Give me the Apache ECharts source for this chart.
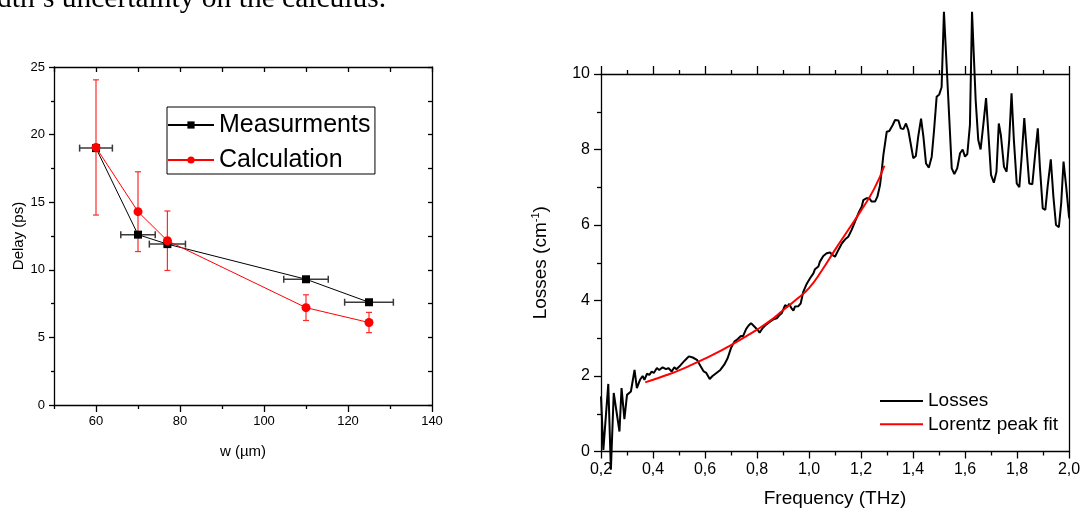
<!DOCTYPE html>
<html><head><meta charset="utf-8">
<script src="https://cdn.jsdelivr.net/npm/echarts@6/dist/echarts.min.js"></script>
<style>html,body{margin:0;padding:0;background:#fff}#c{width:1086px;height:509px}</style>
</head><body><div id="c"></div>
<script>
// ---------- Left chart data ----------
const measW = [60, 70, 77, 110, 125];
const measDelay = [19.0, 12.6, 11.9, 9.3, 7.6];
const measWErr = [3.9, 4.1, 4.3, 5.3, 5.8];
const calcW = [60, 70, 77, 110, 125];
const calcDelay = [19.05, 14.3, 12.15, 7.2, 6.1];
const calcDelayErr = [5.0, 2.95, 2.2, 0.95, 0.75];
const leftXMajor = [60, 80, 100, 120, 140];
const leftXMinor = [50, 70, 90, 110, 130];

// ---------- Right chart data ----------
const lossFreq = [0.200,0.209,0.228,0.238,0.249,0.271,0.279,0.290,0.300,0.315,0.329,0.338,0.350,0.360,0.367,0.377,0.386,0.395,0.403,0.415,0.424,0.437,0.450,0.459,0.472,0.482,0.490,0.501,0.518,0.528,0.538,0.553,0.569,0.582,0.595,0.605,0.618,0.629,0.644,0.659,0.674,0.687,0.700,0.713,0.726,0.738,0.746,0.758,0.767,0.777,0.787,0.803,0.810,0.822,0.835,0.850,0.863,0.876,0.885,0.895,0.908,0.917,0.924,0.933,0.940,0.946,0.959,0.968,0.978,0.991,1.004,1.017,1.023,1.036,1.042,1.055,1.068,1.081,1.091,1.100,1.113,1.126,1.139,1.151,1.164,1.177,1.190,1.203,1.209,1.222,1.232,1.241,1.254,1.263,1.273,1.280,1.286,1.299,1.309,1.322,1.331,1.344,1.353,1.363,1.373,1.382,1.391,1.401,1.411,1.420,1.431,1.440,1.450,1.461,1.472,1.481,1.491,1.501,1.510,1.519,1.524,1.536,1.549,1.559,1.570,1.581,1.591,1.600,1.609,1.619,1.627,1.632,1.641,1.651,1.660,1.671,1.681,1.690,1.700,1.711,1.721,1.730,1.738,1.750,1.760,1.770,1.779,1.788,1.799,1.809,1.818,1.828,1.837,1.847,1.859,1.869,1.880,1.888,1.899,1.909,1.918,1.930,1.940,1.950,1.961,1.970,1.979,1.989,2.000,2.006];
const lossVal = [1.46,0.04,1.79,-0.48,1.55,0.53,1.68,0.86,1.50,1.59,2.16,1.68,1.90,2.00,1.90,2.06,2.03,2.12,2.08,2.21,2.16,2.23,2.18,2.21,2.12,2.23,2.18,2.25,2.38,2.45,2.52,2.49,2.43,2.27,2.12,2.08,1.92,2.00,2.08,2.16,2.30,2.47,2.74,2.91,2.98,3.06,3.05,3.24,3.33,3.40,3.33,3.22,3.15,3.27,3.36,3.44,3.50,3.53,3.60,3.66,3.88,3.84,3.91,3.79,3.73,3.84,3.85,3.92,4.23,4.44,4.59,4.72,4.83,4.90,5.03,5.18,5.25,5.27,5.20,5.16,5.34,5.51,5.62,5.69,5.87,6.09,6.31,6.49,6.66,6.71,6.71,6.62,6.62,6.75,7.05,7.46,7.85,8.47,8.49,8.65,8.78,8.77,8.56,8.54,8.69,8.51,8.16,7.77,7.83,8.34,8.82,8.34,7.63,7.52,7.81,8.51,9.40,9.46,9.65,11.65,11.65,9.31,7.50,7.35,7.50,7.90,8.00,7.81,7.88,8.65,11.65,11.65,9.31,8.25,8.00,8.69,9.36,8.42,7.33,7.12,7.41,8.69,8.38,7.54,7.41,8.25,9.49,8.25,7.10,7.00,7.81,8.83,8.00,7.10,7.08,7.81,8.56,7.54,6.44,6.40,7.03,7.74,6.75,6.00,5.94,6.58,7.68,7.03,6.22,6.11];
const fitFreq = [0.37,0.40,0.45,0.50,0.55,0.60,0.65,0.70,0.75,0.80,0.85,0.90,0.95,1.00,1.05,1.10,1.15,1.20,1.25,1.29];
const fitVal = [1.83,1.90,2.02,2.15,2.30,2.46,2.63,2.82,3.02,3.23,3.46,3.74,4.02,4.33,4.80,5.34,5.86,6.38,6.95,7.57];

const FF = 'Liberation Sans, Arial, sans-serif';
const K = '#000';
const axLine = {show: true, onZero: false, lineStyle: {color: K, width: 1.3}};
const tickStyle = {color: K, width: 1.3};

function xErrRender(params, api) {
  const x = api.value(0), y = api.value(1), e = api.value(2);
  const a = api.coord([x - e, y]), b = api.coord([x + e, y]);
  const st = {stroke: '#3a3a3a', lineWidth: 1.5};
  const c = 3.5;
  return {type: 'group', children: [
    {type: 'line', shape: {x1: a[0], y1: a[1], x2: b[0], y2: b[1]}, style: st},
    {type: 'line', shape: {x1: a[0], y1: a[1] - c, x2: a[0], y2: a[1] + c}, style: st},
    {type: 'line', shape: {x1: b[0], y1: b[1] - c, x2: b[0], y2: b[1] + c}, style: st}
  ]};
}
function yErrRender(params, api) {
  const x = api.value(0), y = api.value(1), e = api.value(2);
  const a = api.coord([x, y + e]), b = api.coord([x, y - e]);
  const st = {stroke: '#ff2a2a', lineWidth: 1.2};
  const c = 3;
  return {type: 'group', children: [
    {type: 'line', shape: {x1: a[0], y1: a[1], x2: b[0], y2: b[1]}, style: st},
    {type: 'line', shape: {x1: a[0] - c, y1: a[1], x2: a[0] + c, y2: a[1]}, style: st},
    {type: 'line', shape: {x1: b[0] - c, y1: b[1], x2: b[0] + c, y2: b[1]}, style: st}
  ]};
}

const chart = echarts.init(document.getElementById('c'), null, {renderer: 'canvas'});
chart.setOption({
  animation: false,
  backgroundColor: '#fff',
  graphic: [{
    type: 'text', x: -3, y: -1,
    style: {text: 'dth\u2019s uncertainty on the calculus.', font: '29.5px "Liberation Serif", serif', fill: K, verticalAlign: 'middle', align: 'left'}
  }],
  grid: [
    {left: 54, top: 67, width: 378, height: 338, containLabel: false, outerBoundsMode: 'none'},
    {left: 601, top: 74, width: 468, height: 377.5, containLabel: false, outerBoundsMode: 'none'}
  ],
  legend: [
    {
      orient: 'vertical', left: 167, top: 107, selectedMode: false,
      data: ['Measurments', 'Calculation'],
      itemWidth: 46, itemHeight: 9, itemGap: 10,
      padding: [5.5, 4.5, 1.5, 0],
      borderColor: K, borderWidth: 1,
      textStyle: {fontSize: 25, color: K, fontFamily: FF, lineHeight: 25}
    },
    {
      orient: 'vertical', left: 880, top: 391, selectedMode: false,
      data: [{name: 'Losses', icon: 'rect'}, {name: 'Lorentz peak fit', icon: 'rect'}],
      itemWidth: 43, itemHeight: 2, itemGap: 3.3, padding: 0,
      textStyle: {fontSize: 19, color: K, fontFamily: FF, lineHeight: 20}
    }
  ],
  xAxis: [
    {gridIndex: 0, type: 'value', min: 50, max: 140, position: 'bottom',
      axisLine: axLine, splitLine: {show: false},
      axisTick: {show: true, length: 7, lineStyle: tickStyle, customValues: leftXMajor},
      axisLabel: {show: true, customValues: leftXMajor, fontSize: 13, color: K, fontFamily: FF, margin: 10},
      name: 'w (\u00b5m)', nameLocation: 'middle', nameGap: 39,
      nameTextStyle: {fontSize: 15, color: K, fontFamily: FF}},
    {gridIndex: 0, type: 'value', min: 50, max: 140, position: 'bottom',
      axisLine: {show: false, onZero: false}, splitLine: {show: false},
      axisTick: {show: true, length: 4, lineStyle: tickStyle, customValues: leftXMinor},
      axisLabel: {show: false}},
    {gridIndex: 0, type: 'value', min: 50, max: 140, interval: 10, position: 'top',
      axisLine: axLine, splitLine: {show: false},
      axisTick: {show: true, inside: true, length: 5, lineStyle: tickStyle},
      axisLabel: {show: false}},
    {gridIndex: 1, type: 'value', min: 0.2, max: 2.0, interval: 0.2, position: 'bottom',
      axisLine: axLine, splitLine: {show: false},
      axisTick: {show: true, length: 7, lineStyle: tickStyle},
      minorTick: {show: true, splitNumber: 2, length: 4, lineStyle: tickStyle},
      axisLabel: {fontSize: 16, color: K, fontFamily: FF, margin: 10.5,
        formatter: v => v.toFixed(1).replace('.', ',')},
      name: 'Frequency (THz)', nameLocation: 'middle', nameGap: 37.5,
      nameTextStyle: {fontSize: 19, color: K, fontFamily: FF}},
    {gridIndex: 1, type: 'value', min: 0.2, max: 2.0, interval: 0.2, position: 'top',
      axisLine: axLine, splitLine: {show: false},
      axisTick: {show: true, length: 8, lineStyle: tickStyle},
      minorTick: {show: true, splitNumber: 2, length: 4, lineStyle: tickStyle},
      axisLabel: {show: false}}
  ],
  yAxis: [
    {gridIndex: 0, type: 'value', min: 0, max: 25, interval: 5, position: 'left',
      axisLine: axLine, splitLine: {show: false},
      axisTick: {show: true, length: 5, lineStyle: tickStyle},
      minorTick: {show: true, splitNumber: 2, length: 3, lineStyle: tickStyle},
      axisLabel: {fontSize: 13, color: K, fontFamily: FF, margin: 9},
      name: 'Delay (ps)', nameLocation: 'middle', nameRotate: 90, nameGap: 28,
      nameTextStyle: {fontSize: 15, color: K, fontFamily: FF}},
    {gridIndex: 0, type: 'value', min: 0, max: 25, interval: 2.5, position: 'right',
      axisLine: axLine, splitLine: {show: false},
      axisTick: {show: true, inside: true, length: 4, lineStyle: tickStyle},
      axisLabel: {show: false}},
    {gridIndex: 1, type: 'value', min: 0, max: 10, interval: 2, position: 'left',
      axisLine: axLine, splitLine: {show: false},
      axisTick: {show: true, length: 7, lineStyle: tickStyle},
      minorTick: {show: true, splitNumber: 2, length: 4, lineStyle: tickStyle},
      axisLabel: {fontSize: 16, color: K, fontFamily: FF, margin: 11},
      name: '{a|Losses (cm}{s|-1}{a|)}', nameLocation: 'middle', nameRotate: 90, nameGap: 49,
      nameTextStyle: {fontSize: 19, color: K, fontFamily: FF,
        rich: {a: {fontSize: 19, color: K, fontFamily: FF, lineHeight: 22},
               s: {fontSize: 11, color: K, fontFamily: FF, verticalAlign: 'top', lineHeight: 22}}}},
    {gridIndex: 1, type: 'value', min: 0, max: 10, interval: 2, position: 'right',
      axisLine: axLine, splitLine: {show: false},
      axisTick: {show: false}, axisLabel: {show: false}}
  ],
  series: [
    {type: 'custom', name: 'measErr', xAxisIndex: 0, yAxisIndex: 0, silent: true, z: 2,
      encode: {x: 0, y: 1},
      data: measW.map((w, i) => [w, measDelay[i], measWErr[i]]), renderItem: xErrRender},
    {type: 'custom', name: 'calcErr', xAxisIndex: 0, yAxisIndex: 0, silent: true, z: 2,
      encode: {x: 0, y: 1},
      data: calcW.map((w, i) => [w, calcDelay[i], calcDelayErr[i]]), renderItem: yErrRender},
    {type: 'line', name: 'Measurments', xAxisIndex: 0, yAxisIndex: 0, z: 3,
      data: measW.map((w, i) => [w, measDelay[i]]),
      symbol: 'rect', symbolSize: 8, color: K,
      itemStyle: {color: K}, lineStyle: {color: K, width: 1}},
    {type: 'line', name: 'Calculation', xAxisIndex: 0, yAxisIndex: 0, z: 4,
      data: calcW.map((w, i) => [w, calcDelay[i]]),
      symbol: 'circle', symbolSize: 9, color: '#ff0000',
      itemStyle: {color: '#ff0000'}, lineStyle: {color: '#ff0000', width: 1}},
    {type: 'line', name: 'Losses', xAxisIndex: 3, yAxisIndex: 2, z: 3, clip: false,
      data: lossFreq.map((f, i) => [f, lossVal[i]]),
      showSymbol: false, symbol: 'none', color: K,
      lineStyle: {color: K, width: 2}},
    {type: 'line', name: 'Lorentz peak fit', xAxisIndex: 3, yAxisIndex: 2, z: 4, clip: false,
      data: fitFreq.map((f, i) => [f, fitVal[i]]), smooth: true,
      showSymbol: false, symbol: 'none', color: '#ff0000',
      lineStyle: {color: '#ff0000', width: 2}}
  ]
});
</script></body></html>
